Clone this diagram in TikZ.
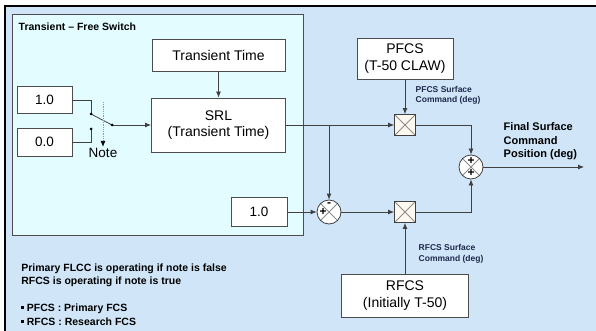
\documentclass[tikz,border=0pt]{standalone}
\usepackage{fontspec}
\setmainfont{Liberation Sans}
\usetikzlibrary{arrows.meta}

\definecolor{bgblue}{RGB}{208,230,248}
\definecolor{innercyan}{RGB}{226,252,255}
\definecolor{labelnavy}{RGB}{30,40,75}
\definecolor{multfill}{RGB}{255,248,240}

\newcommand{\sqbullet}{\raisebox{2.5pt}{\rule{2.6pt}{2.6pt}}}

\tikzset{
  blockbox/.style={draw=black!70, fill=white, align=center, inner sep=0pt,
    font=\fontsize{14}{16.5}\selectfont},
  multbox/.style={draw=black!75, fill=multfill, minimum size=21pt, inner sep=0pt,
    path picture={\draw[black!45]
      (path picture bounding box.south west) -- (path picture bounding box.north east)
      (path picture bounding box.north west) -- (path picture bounding box.south east);}},
  sumnode/.style={circle, draw=black!75, fill=white, minimum size=24pt, inner sep=0pt,
    path picture={\draw[black!45]
      (path picture bounding box.south west) -- (path picture bounding box.north east)
      (path picture bounding box.north west) -- (path picture bounding box.south east);}},
  signtext/.style={font=\bfseries\fontsize{12}{12}\selectfont, inner sep=0pt},
  smalllabel/.style={font=\bfseries\fontsize{8.5}{10.5}\selectfont, text=labelnavy, align=left, anchor=west},
  swdot/.style={fill=black, circle, inner sep=0pt, minimum size=3pt},
}

\begin{document}
\begin{tikzpicture}[%
      x=1pt, y=-1pt,
      >={Latex[length=6pt,width=5pt]},
      line width=0.8pt,
      ]
      \useasboundingbox (0,0) rectangle (596,331);
      \fill[bgblue] (5,6) rectangle (596,331);
      \draw[line width=1.6pt] (5,331) -- (5,6) -- (596,6);

      % transient free switch area
      \draw[draw=black!70, fill=innercyan] (12,14) rectangle (303,235);
      \node[anchor=west, font=\bfseries\fontsize{10.5}{12}\selectfont] (title) at (15,27) {Transient -- Free Switch};

      \node[blockbox, minimum width=133pt, minimum height=32pt] (ttime) at (218.5,55) {Transient Time};
      \node[blockbox, minimum width=134pt, minimum height=54pt] (srl) at (218.5,125) {SRL\\(Transient Time)};
      \node[blockbox, minimum width=55pt, minimum height=27pt, font=\fontsize{13.5}{16}\selectfont] (one) at (44.5,100) {1.0};
      \node[blockbox, minimum width=55pt, minimum height=28pt, font=\fontsize{13.5}{16}\selectfont] (zero) at (44.5,142) {0.0};
      \node[blockbox, minimum width=56pt, minimum height=29pt, font=\fontsize{13.5}{16}\selectfont] (oneb) at (259,212) {1.0};

      % switch
      \coordinate (sw1) at (91,114);
      \coordinate (sw0) at (91,129);
      \coordinate (swout) at (112,125);
      \coordinate (ntop) at (103,102);
      \node[font=\fontsize{13.5}{16}\selectfont, inner sep=1pt] (note) at (103,153) {Note};
      \draw[black!75] (one.east) -| (sw1);
      \draw[black!75] (zero.east) -| (sw0);
      \draw[black!75] (sw1) -- (swout);
      \draw[black!75, ->] (swout) -- (srl.west);
      \draw[black!40, densely dotted, -{Latex[length=6pt,width=5pt,black]}] (ntop) -- (note.north);
      \node[swdot] at (sw1) {};
      \node[swdot] at (sw0) {};
      \node[swdot] at (swout) {};

      \draw[black!75, ->] (ttime) -- (srl);

      % surface command path
      \node[blockbox, minimum width=96pt, minimum height=41pt] (pfcs) at (405,58.5) {PFCS\\(T-50 CLAW)};
      \node[blockbox, minimum width=127pt, minimum height=43pt] (rfcs) at (405,295.5) {RFCS\\(Initially T-50)};
      \node[multbox] (multa) at (405,125) {};
      \node[multbox] (multb) at (405,212) {};
      \node[sumnode] (suma) at (471,167) {};
      \node[sumnode] (sumb) at (329,212) {};
      \node[signtext] at ([yshift=6pt]suma.center) {+};
      \node[signtext] at ([yshift=-6pt]suma.center) {+};
      \node[signtext] at ([yshift=7pt]sumb.center) {-};
      \node[signtext] at ([xshift=-6pt]sumb.center) {+};

      \coordinate (br) at (329,125);
      \coordinate (out) at (584,167);
      \draw[black!75, ->] (srl.east) -- (multa.west);
      \draw[black!75, ->] (br) -- (sumb.north);
      \draw[black!75, ->] (oneb.east) -- (sumb.west);
      \draw[black!75, ->] (sumb.east) -- (multb.west);
      \draw[black!75, ->] (pfcs.south) -- (multa.north);
      \draw[black!75, ->] (rfcs.north) -- (multb.south);
      \draw[black!75, ->] (multa.east) -| (suma.north);
      \draw[black!75, ->] (multb.east) -| (suma.south);
      \draw[black!75, ->] (suma.east) -- (out);

      \node[smalllabel] (pfcslab) at (412,95.5) {PFCS Surface\\Command (deg)};
      \node[smalllabel] (rfcslab) at (415,254) {RFCS Surface\\Command (deg)};
      \node[anchor=west, align=left, font=\bfseries\fontsize{11}{13.5}\selectfont] (finallab) at (500,141.5) {Final Surface\\Command\\Position (deg)};

      \node[anchor=north west, align=left, inner sep=0pt, font=\bfseries\fontsize{10.5}{13.5}\selectfont] (notes) at (21,263)
        {Primary FLCC is operating if note is false\\RFCS is operating if note is true\\[13.5pt]
         \sqbullet\ PFCS : Primary FCS\\\sqbullet\ RFCS : Research FCS};
\end{tikzpicture}
\end{document}
